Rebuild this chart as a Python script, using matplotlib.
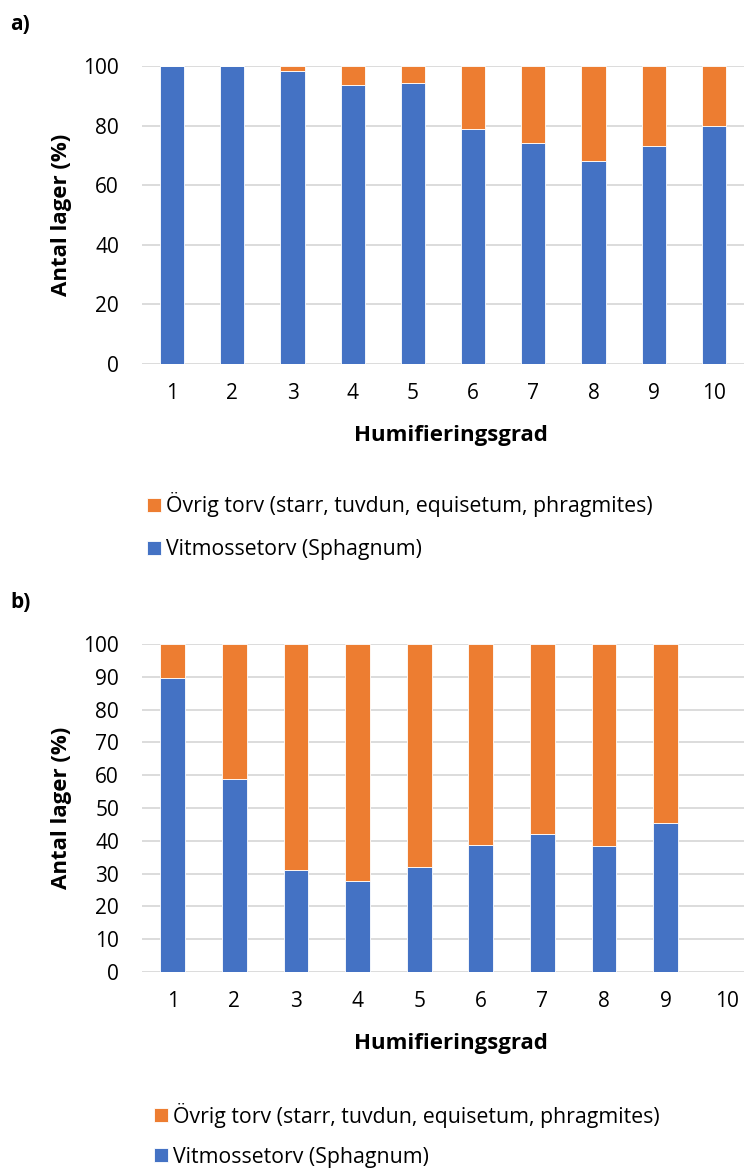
import matplotlib
matplotlib.use("Agg")
import matplotlib.pyplot as plt
import numpy as np

categories = ["1", "2", "3", "4", "5", "6", "7", "8", "9", "10"]
a_vitmosse = [100, 100, 98.2, 93.5, 94.2, 78.7, 74.0, 68.2, 73.3, 79.8]
a_ovrig = [0, 0, 1.8, 6.5, 5.8, 21.3, 26.0, 31.8, 26.7, 20.2]
b_vitmosse = [89.7, 58.8, 31.1, 27.6, 32.0, 38.7, 42.2, 38.5, 45.3, 0]
b_ovrig = [10.3, 41.2, 68.9, 72.4, 68.0, 61.3, 57.8, 61.5, 54.7, 0]

lab_ovrig = "Övrig torv (starr, tuvdun, equisetum, phragmites)"
lab_vit = "Vitmossetorv (Sphagnum)"
BLUE = "#4472C4"
ORANGE = "#ED7D31"
GRID = "#D9D9D9"

plt.rcParams['font.family'] = ['Open Sans', 'DejaVu Sans']

W, H = 744, 1169
fig = plt.figure(figsize=(W/100, H/100), dpi=100)

def fx(px):
    return px / W

def fy(py):
    return 1 - py / H

def panel(left, right, top, bottom, vit, ovr, yticks, letter, letter_y, leg_x, leg_y1, leg_y2):
    ax = fig.add_axes([fx(left), fy(bottom), (right - left) / W, (bottom - top) / H])
    x = np.arange(len(categories))
    b1 = ax.bar(x, vit, width=0.4, color=BLUE, edgecolor="white", linewidth=0.6, zorder=3)
    b2 = ax.bar(x, ovr, bottom=vit, width=0.4, color=ORANGE, edgecolor="white", linewidth=0.6, zorder=3)
    ax.set_xlim(-0.5, len(categories) - 0.5)
    ax.set_ylim(0, 100)
    ax.set_yticks(yticks)
    ax.set_xticks(x)
    ax.set_xticklabels(categories)
    for s in ax.spines.values():
        s.set_visible(False)
    ax.yaxis.grid(True, color=GRID, linewidth=1.3, zorder=0)
    ax.set_axisbelow(True)
    ax.tick_params(axis='both', length=0, labelsize=15, colors="black")
    ax.tick_params(axis='y', pad=16.5)
    ax.tick_params(axis='x', pad=14)
    ax.set_ylabel("Antal lager (%)", fontsize=16, fontweight='bold', va='center')
    ax.yaxis.set_label_coords(fx(62), (fy(top) + fy(bottom)) / 2, transform=fig.transFigure)
    ax.set_xlabel("Humifieringsgrad", fontsize=16, fontweight='bold', va='center')
    ax.xaxis.set_label_coords(fx(451), fy(bottom + 71), transform=fig.transFigure)
    fig.text(fx(10), fy(letter_y), letter, fontsize=15, fontweight='bold', va='center', ha='left')
    for handle, lab, ly in [(b2, lab_ovrig, leg_y1), (b1, lab_vit, leg_y2)]:
        fig.legend([handle], [lab], loc='center left',
                   bbox_to_anchor=(fx(leg_x), fy(ly)), frameon=False, fontsize=15.3,
                   handlelength=0.66, handleheight=0.66, handletextpad=0.25,
                   borderpad=0, borderaxespad=0)
    return ax

panel(142, 744, 66, 364, a_vitmosse, a_ovrig, np.arange(0, 101, 20), "a)", 25, 147, 505, 550)
panel(142, 758, 644, 972, b_vitmosse, b_ovrig, np.arange(0, 101, 10), "b)", 603, 154, 1115, 1157)

fig.savefig("out.png", dpi=100)
